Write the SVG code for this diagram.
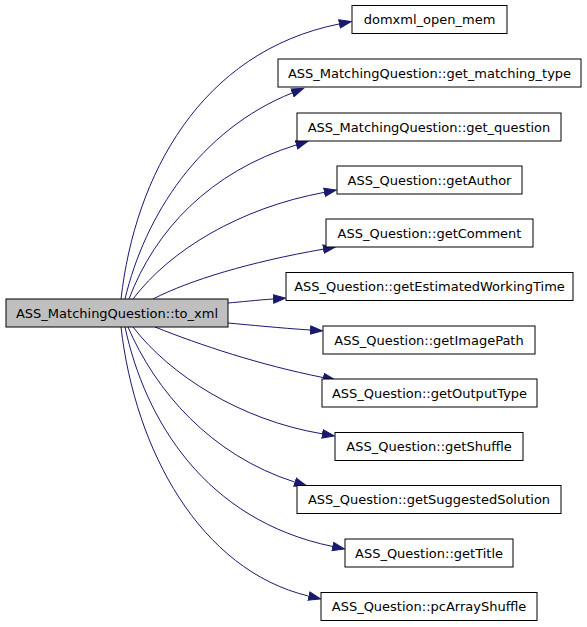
<svg xmlns="http://www.w3.org/2000/svg" width="587" height="627" viewBox="0 0 587 627">
<defs>
<style>
.node rect{fill:#ffffff;stroke:#000000;stroke-width:1}
.node.main rect{fill:#bfbfbf}
.node text{font-family:"DejaVu Sans","Liberation Sans",sans-serif;font-size:13px;fill:#000000;text-anchor:middle}
.edges path{fill:none;stroke:#191970;stroke-width:1;marker-end:url(#arr)}
</style>
<marker id="arr" markerUnits="userSpaceOnUse" markerWidth="14" markerHeight="10" refX="0" refY="5" orient="auto" viewBox="0 0 14 10">
<polygon points="0.5,0.8 12.5,5 0.5,9.2" fill="#191970" stroke="#191970" stroke-width="1"/>
</marker>
</defs>
<rect width="587" height="627" fill="#ffffff"/>
<g class="edges" id="edges">
<path d="M121,299 C135,176 200,52 339,24"/>
<path d="M125,299 C145,215 200,130 292,93"/>
<path d="M129,299 C155,230 210,172 296,145"/>
<path d="M133,299 C170,250 240,208 324,192.4"/>
<path d="M153,299 C190,280 250,262 323,249.2"/>
<path d="M228,303 C240,302 258,300 273,299"/>
<path d="M228,323 C250,325 280,328 310,330"/>
<path d="M155,327 C200,345 260,365 323,377.5"/>
<path d="M133,327 C170,375 240,420 322,433.8"/>
<path d="M128,327 C155,390 210,455 294.6,482"/>
<path d="M125,327 C145,420 205,520 332.3,546.4"/>
<path d="M121,327 C135,450 200,570 308.4,596"/>
</g>
<g class="node main" id="node_to_xml"><rect x="6" y="299" width="222" height="28"/><text x="117" y="317.5">ASS_MatchingQuestion::to_xml</text></g>
<g class="node" id="node_domxml_open_mem"><rect x="352" y="5.5" width="155" height="28"/><text x="429.5" y="24">domxml_open_mem</text></g>
<g class="node" id="node_get_matching_type"><rect x="278" y="59" width="303" height="28"/><text x="429.5" y="77.5">ASS_MatchingQuestion::get_matching_type</text></g>
<g class="node" id="node_get_question"><rect x="297" y="113" width="264" height="28"/><text x="429" y="131.5">ASS_MatchingQuestion::get_question</text></g>
<g class="node" id="node_getAuthor"><rect x="337" y="166" width="185" height="28"/><text x="429.5" y="184.5">ASS_Question::getAuthor</text></g>
<g class="node" id="node_getComment"><rect x="326" y="219" width="207" height="28"/><text x="429.5" y="237.5">ASS_Question::getComment</text></g>
<g class="node" id="node_getEstimatedWorkingTime"><rect x="286" y="272.5" width="287" height="28"/><text x="429.5" y="291">ASS_Question::getEstimatedWorkingTime</text></g>
<g class="node" id="node_getImagePath"><rect x="323" y="326" width="212" height="28"/><text x="429" y="344.5">ASS_Question::getImagePath</text></g>
<g class="node" id="node_getOutputType"><rect x="322" y="379" width="215" height="28"/><text x="429.5" y="397.5">ASS_Question::getOutputType</text></g>
<g class="node" id="node_getShuffle"><rect x="335" y="432.5" width="188" height="28"/><text x="429" y="451">ASS_Question::getShuffle</text></g>
<g class="node" id="node_getSuggestedSolution"><rect x="297" y="485.5" width="264" height="28"/><text x="429" y="504">ASS_Question::getSuggestedSolution</text></g>
<g class="node" id="node_getTitle"><rect x="345" y="539" width="168" height="28"/><text x="429" y="557.5">ASS_Question::getTitle</text></g>
<g class="node" id="node_pcArrayShuffle"><rect x="321" y="592.5" width="216" height="28"/><text x="429" y="611">ASS_Question::pcArrayShuffle</text></g>
</svg>
